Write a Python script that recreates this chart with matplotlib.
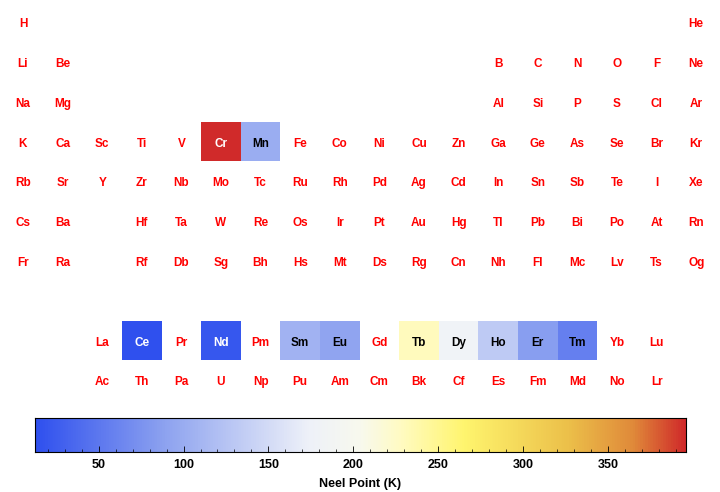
import numpy as np
import matplotlib
matplotlib.use("Agg")
import matplotlib.pyplot as plt
from matplotlib.colors import LinearSegmentedColormap, Normalize
from matplotlib.ticker import MultipleLocator

plt.rcParams['font.family'] = ['Liberation Sans', 'DejaVu Sans']

# periodic table rows ('' = empty slot), lanthanides/actinides on rows 9 and 10
table_rows = [
    ["H"] + [""] * 16 + ["He"],
    ["Li", "Be"] + [""] * 10 + ["B", "C", "N", "O", "F", "Ne"],
    ["Na", "Mg"] + [""] * 10 + ["Al", "Si", "P", "S", "Cl", "Ar"],
    ["K", "Ca", "Sc", "Ti", "V", "Cr", "Mn", "Fe", "Co", "Ni", "Cu", "Zn", "Ga", "Ge", "As", "Se", "Br", "Kr"],
    ["Rb", "Sr", "Y", "Zr", "Nb", "Mo", "Tc", "Ru", "Rh", "Pd", "Ag", "Cd", "In", "Sn", "Sb", "Te", "I", "Xe"],
    ["Cs", "Ba", "", "Hf", "Ta", "W", "Re", "Os", "Ir", "Pt", "Au", "Hg", "Tl", "Pb", "Bi", "Po", "At", "Rn"],
    ["Fr", "Ra", "", "Rf", "Db", "Sg", "Bh", "Hs", "Mt", "Ds", "Rg", "Cn", "Nh", "Fl", "Mc", "Lv", "Ts", "Og"],
    [""] * 18,
    ["", "", "La", "Ce", "Pr", "Nd", "Pm", "Sm", "Eu", "Gd", "Tb", "Dy", "Ho", "Er", "Tm", "Yb", "Lu", ""],
    ["", "", "Ac", "Th", "Pa", "U", "Np", "Pu", "Am", "Cm", "Bk", "Cf", "Es", "Fm", "Md", "No", "Lr", ""],
]

# Neel points (K)
neel_elements = ["Cr", "Mn", "Ce", "Nd", "Sm", "Eu", "Tb", "Dy", "Ho", "Er", "Tm"]
neel_values = [396, 100, 12.5, 19.9, 106, 90.4, 230, 179, 132, 85, 56]

cbar_ticks = [50, 100, 150, 200, 250, 300, 350]

# temperature-map style colours
cmap = LinearSegmentedColormap.from_list("temp", [
    (0.00, "#2f50ee"),
    (0.20, "#8ea3f0"),
    (0.42, "#eef1f9"),
    (0.50, "#f8f9ee"),
    (0.56, "#fffbc4"),
    (0.66, "#fff56e"),
    (0.82, "#ecc04a"),
    (0.92, "#e08a3a"),
    (1.00, "#d02a2a"),
])
norm = Normalize(vmin=min(neel_values), vmax=max(neel_values))
neel = dict(zip(neel_elements, neel_values))

fig = plt.figure(figsize=(7.2, 4.92), dpi=100)
ax = fig.add_axes([3.2 / 720, 1 - 400.1 / 492, 712.8 / 720, 398 / 492])
ax.set_xlim(0.5, 18.5)
ax.set_ylim(10.5, 0.5)
ax.axis("off")

for r, row in enumerate(table_rows, start=1):
    for c, sym in enumerate(row, start=1):
        if not sym:
            continue
        if sym in neel:
            v = neel[sym]
            ax.add_patch(plt.Rectangle((c - 0.5, r - 0.5), 1, 1, color=cmap(norm(v)), lw=0))
            tc = "white" if (v < 30 or v > 350) else "black"
        else:
            tc = "#ff0000"
        ax.text(c, r + 0.02, sym, ha="center", va="center_baseline", fontsize=8.5,
                fontweight="bold", color=tc)

cax = fig.add_axes([35 / 720, 1 - 452 / 492, 651 / 720, 34 / 492])
grad = np.linspace(norm.vmin, norm.vmax, 512).reshape(1, -1)
cax.imshow(grad, cmap=cmap, norm=norm, aspect="auto",
           extent=[norm.vmin, norm.vmax, 0, 1])
cax.set_xlim(norm.vmin, norm.vmax)
cax.set_yticks([])
cax.set_xticks(cbar_ticks)
cax.xaxis.set_minor_locator(MultipleLocator(10))
cax.tick_params(axis="x", which="major", direction="in", length=4, labelsize=9,
                width=0.6, pad=5)
cax.tick_params(axis="x", which="minor", direction="in", length=2, width=0.5)
for lab in cax.get_xticklabels():
    lab.set_fontweight("bold")
cax.set_xlabel("Neel Point (K)", fontsize=9, fontweight="bold", labelpad=5)
for s in cax.spines.values():
    s.set_linewidth(0.8)

fig.savefig("out.png", dpi=100)
